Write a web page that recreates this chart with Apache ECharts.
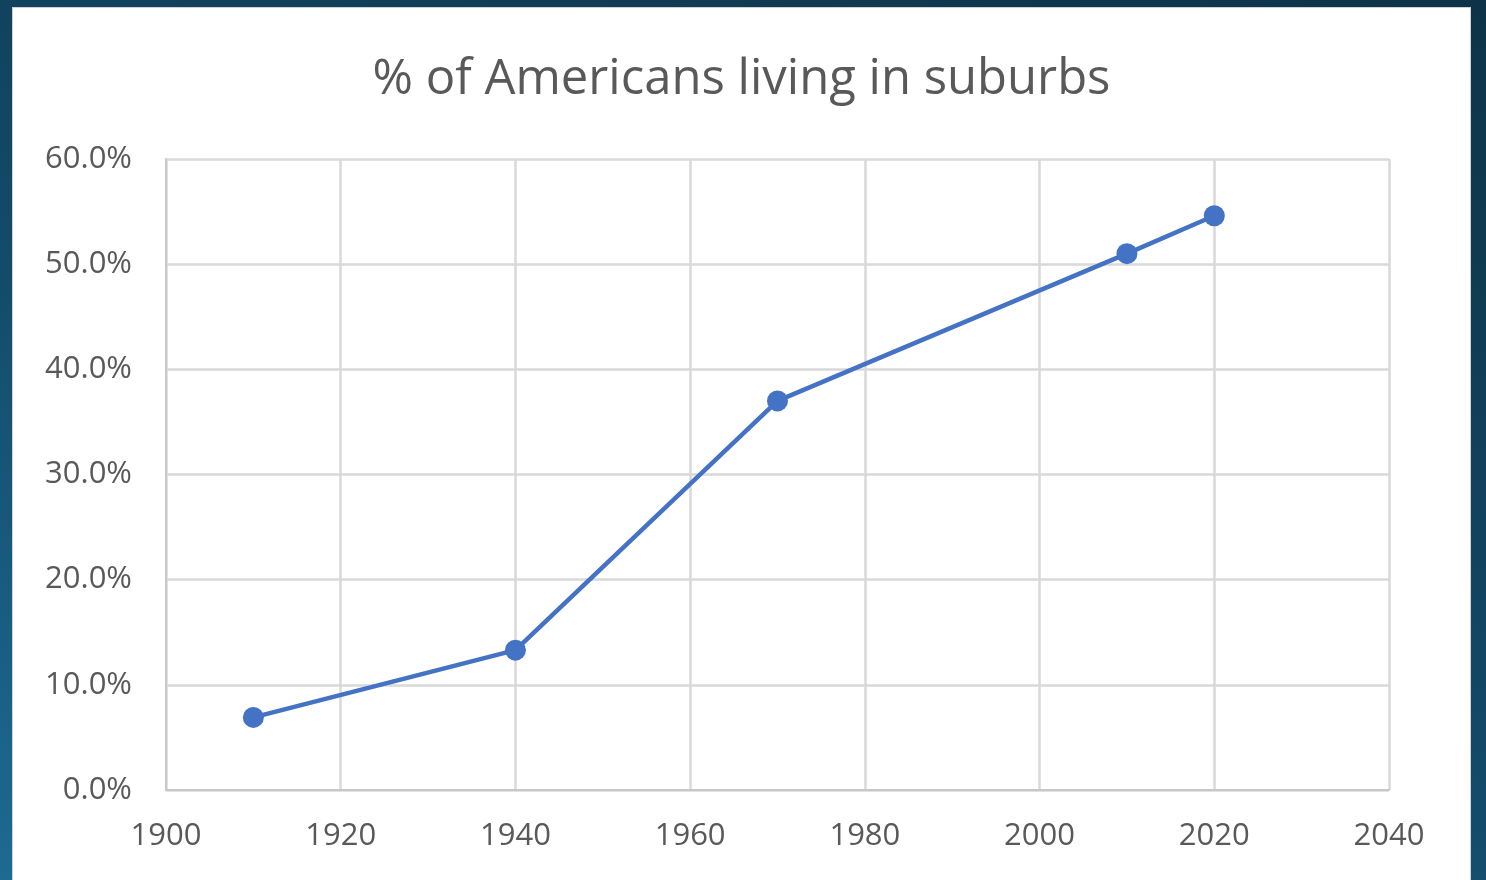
<!DOCTYPE html>
<html>
<head>
<meta charset="utf-8">
<script src="https://cdn.jsdelivr.net/npm/echarts@6/dist/echarts.min.js"></script>
<style>
  html, body { margin: 0; padding: 0; width: 1486px; height: 880px; overflow: hidden; }
  body { background: linear-gradient(20deg, #1d6a92 0%, #134a68 45%, #0e3348 100%); }
  #chart { position: absolute; left: 12px; top: 7px; width: 1459px; height: 880px;
           background: #fff; border: 1px solid #d0d0d0; box-sizing: border-box; }
</style>
</head>
<body>
<div id="chart"></div>
<script>
var years = [1910, 1940, 1970, 2010, 2020];
var shares = [0.069, 0.133, 0.370, 0.510, 0.546];
var titleText = '% of Americans living in suburbs';

var mychart = echarts.init(document.getElementById('chart'));
var labelColor = '#595959';
var font = '"Open Sans", "Liberation Sans", sans-serif';

var option = {
  animation: false,
  title: {
    text: titleText,
    left: 'center',
    top: 43,
    textStyle: { color: labelColor, fontSize: 49, fontWeight: 'normal', fontFamily: font }
  },
  grid: { left: 153, top: 151, width: 1223, height: 631 },
  xAxis: {
    type: 'value',
    min: 1900,
    max: 2040,
    interval: 20,
    axisLine: { lineStyle: { color: '#c8c8c8', width: 2 } },
    axisTick: { show: false },
    axisLabel: {
      color: labelColor, fontSize: 31, fontFamily: font, margin: 31,
      formatter: function (v) { return String(v); }
    },
    splitLine: { lineStyle: { color: '#d9d9d9', width: 2.5 } }
  },
  yAxis: {
    type: 'value',
    min: 0,
    max: 0.6,
    interval: 0.1,
    axisLine: { show: true, lineStyle: { color: '#c8c8c8', width: 2 } },
    axisTick: { show: false },
    axisLabel: {
      color: labelColor, fontSize: 31, fontFamily: font, margin: 34,
      formatter: function (v) { return (v * 100).toFixed(1) + '%'; }
    },
    splitLine: { lineStyle: { color: '#d9d9d9', width: 2.5 } }
  },
  series: [
    {
      type: 'line',
      data: years.map(function (y, i) { return [y, shares[i]]; }),
      symbol: 'circle',
      symbolSize: 21,
      lineStyle: { color: '#4472c4', width: 4.5 },
      itemStyle: { color: '#4472c4' }
    }
  ]
};
mychart.setOption(option);
</script>
</body>
</html>
